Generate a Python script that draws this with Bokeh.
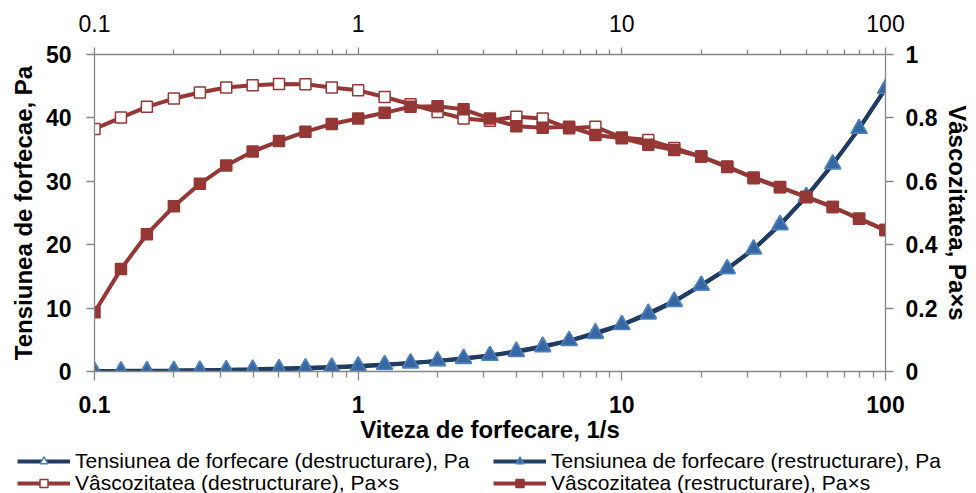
from bokeh.plotting import figure
from bokeh.layouts import column
from bokeh.models import (Range1d, LinearAxis, LogAxis, FixedTicker, Legend,
                          LegendItem, NumeralTickFormatter)
from bokeh.embed import file_html
from bokeh.resources import INLINE

# Shear rate, 1/s
rate = [0.1, 0.126, 0.158, 0.2, 0.251, 0.316, 0.398, 0.501, 0.631, 0.794,
        1.0, 1.26, 1.58, 2.0, 2.51, 3.16, 3.98, 5.01, 6.31, 7.94,
        10.0, 12.6, 15.8, 20.0, 25.1, 31.6, 39.8, 50.1, 63.1, 79.4, 100.0]

# Shear stress, Pa
stress_destr = [0.077, 0.101, 0.132, 0.172, 0.221, 0.283, 0.359, 0.454, 0.572, 0.711,
                0.887, 1.09, 1.33, 1.64, 2.00, 2.50, 3.20, 4.00, 4.84, 6.13,
                7.38, 9.20, 11.1, 13.6, 16.2, 19.3, 23.2, 27.6, 32.7, 38.3, 44.6]
stress_restr = [0.019, 0.041, 0.068, 0.104, 0.149, 0.205, 0.276, 0.364, 0.477, 0.620,
                0.798, 1.03, 1.32, 1.67, 2.08, 2.52, 3.08, 3.85, 4.87, 5.92,
                7.36, 9.01, 11.0, 13.6, 16.2, 19.3, 23.1, 27.6, 32.7, 38.3, 44.6]

# Viscosity, Pa*s
visc_destr = [0.765, 0.801, 0.835, 0.861, 0.880, 0.896, 0.903, 0.907, 0.906, 0.896,
              0.887, 0.866, 0.843, 0.819, 0.798, 0.791, 0.804, 0.798, 0.767, 0.772,
              0.738, 0.730, 0.705, 0.678, 0.645, 0.612, 0.582, 0.550, 0.519, 0.482, 0.446]
visc_restr = [0.187, 0.323, 0.433, 0.521, 0.592, 0.650, 0.694, 0.727, 0.756, 0.781,
              0.798, 0.816, 0.835, 0.837, 0.827, 0.798, 0.774, 0.769, 0.772, 0.746,
              0.736, 0.715, 0.699, 0.678, 0.647, 0.610, 0.581, 0.551, 0.519, 0.482, 0.446]

x_ticks = [0.1, 1, 10, 100]
x_minor = [0.2, 0.3, 0.4, 0.5, 0.6, 0.7, 0.8, 0.9,
           2, 3, 4, 5, 6, 7, 8, 9,
           20, 30, 40, 50, 60, 70, 80, 90]
left_ticks = [0, 10, 20, 30, 40, 50]
right_ticks = [0, 0.2, 0.4, 0.6, 0.8, 1]

labels = [
    "Tensiunea de forfecare (destructurare), Pa",
    "Vâscozitatea (destructurare), Pa×s",
    "Tensiunea de forfecare (restructurare), Pa",
    "Vâscozitatea (restructurare), Pa×s",
]

NAVY = "#1f3c63"
BLUE_EDGE = "#4f81bd"
BLUE_FILL = "#3767a3"
RED = "#953735"
AXIS_GRAY = "#868686"
FONT = "Liberation Sans"

# marker styles shared by the chart and its key
STRESS_DESTR = dict(marker="triangle", size=16, fill_color="white",
                    line_color=BLUE_EDGE, line_width=1.5)
STRESS_RESTR = dict(marker="triangle", size=16, fill_color=BLUE_FILL,
                    line_color=BLUE_EDGE, line_width=1.5)
VISC_DESTR = dict(marker="square", size=11, fill_color="white",
                  line_color=RED, line_width=1.5)
VISC_RESTR = dict(marker="square", size=11, fill_color=RED,
                  line_color=RED, line_width=1.5)

p = figure(width=976, height=445, x_axis_type="log",
           x_range=Range1d(0.1, 100), y_range=Range1d(0, 50),
           output_backend="svg", toolbar_location=None,
           min_border_left=94, min_border_right=91,
           min_border_top=54, min_border_bottom=72)
p.extra_y_ranges = {"visc": Range1d(0, 1)}
p.grid.visible = False
p.outline_line_color = None
p.background_fill_color = "white"
p.border_fill_color = "white"


def style_axis(ax, bold=True, size="23px"):
    ax.axis_line_color = AXIS_GRAY
    ax.axis_line_width = 1.3
    ax.major_tick_line_color = AXIS_GRAY
    ax.minor_tick_line_color = AXIS_GRAY
    ax.major_tick_line_width = 1.3
    ax.minor_tick_line_width = 1.3
    ax.major_tick_in = 0
    ax.minor_tick_in = 0
    ax.major_label_text_font = FONT
    ax.major_label_text_font_size = size
    ax.major_label_text_font_style = "bold" if bold else "normal"
    ax.major_label_text_color = "black"
    ax.axis_label_text_font = FONT
    ax.axis_label_text_font_size = "24px"
    ax.axis_label_text_font_style = "bold"
    ax.axis_label_text_color = "black"
    ax.formatter = NumeralTickFormatter(format="0.[0]")


# bottom log axis
xb = p.xaxis[0]
xb.ticker = FixedTicker(ticks=x_ticks, minor_ticks=x_minor)
style_axis(xb)
xb.major_tick_out = 9
xb.minor_tick_out = 6
xb.major_label_standoff = 15
xb.axis_label = "Viteza de forfecare, 1/s"
xb.axis_label_standoff = 0

# top log axis
xt = LogAxis(ticker=FixedTicker(ticks=x_ticks, minor_ticks=x_minor))
style_axis(xt, bold=False)
xt.major_tick_out = 7
xt.minor_tick_out = 5
xt.major_label_standoff = 16
p.add_layout(xt, "above")

# left axis: shear stress
yl = p.yaxis[0]
yl.ticker = FixedTicker(ticks=left_ticks, minor_ticks=[])
style_axis(yl)
yl.major_tick_out = 8
yl.major_label_standoff = 15
yl.axis_label = "Tensiunea de forfecae, Pa"
yl.axis_label_standoff = 6

# right axis: viscosity
yr = LinearAxis(y_range_name="visc",
                ticker=FixedTicker(ticks=right_ticks, minor_ticks=[]))
style_axis(yr)
yr.major_tick_out = 8
yr.major_label_standoff = 12
yr.axis_label = "Vâscozitatea, Pa×s"
yr.axis_label_standoff = 4
p.add_layout(yr, "right")

# shear stress series
p.line(rate, stress_destr, line_color=NAVY, line_width=4)
p.scatter(rate, stress_destr, **STRESS_DESTR)
p.line(rate, stress_restr, line_color=NAVY, line_width=4)
p.scatter(rate, stress_restr, **STRESS_RESTR)

# viscosity series
p.line(rate, visc_destr, y_range_name="visc", line_color=RED, line_width=4)
p.scatter(rate, visc_destr, y_range_name="visc", **VISC_DESTR)
p.line(rate, visc_restr, y_range_name="visc", line_color=RED, line_width=4)
p.scatter(rate, visc_restr, y_range_name="visc", **VISC_RESTR)

# key strip under the chart: two columns of two entries
k = figure(width=976, height=48, x_range=Range1d(0.1, 100), y_range=Range1d(0, 1),
           x_axis_type="log", x_axis_location=None, y_axis_location=None,
           output_backend="svg", toolbar_location=None, min_border=0)
k.grid.visible = False
k.outline_line_color = None
k.border_fill_color = "white"
for fig in (p, k):
    if "frame_align" in fig.properties():
        fig.frame_align = False

series = [stress_destr, visc_destr, stress_restr, visc_restr]
styles = [(NAVY, STRESS_DESTR), (RED, VISC_DESTR),
          (NAVY, STRESS_RESTR), (RED, VISC_RESTR)]
spots = [(17, 20), (17, -2), (493, 20), (493, -2)]
for label, ys, (lc, mk), loc in zip(labels, series, styles, spots):
    ln = k.line(rate, ys, line_color=lc, line_width=4, visible=False)
    sc = k.scatter(rate, ys, visible=False, **mk)
    leg = Legend(items=[LegendItem(label=label, renderers=[ln, sc])],
                 location=loc, padding=0, margin=0, spacing=0,
                 border_line_color=None, background_fill_alpha=0,
                 glyph_width=53, glyph_height=20, label_height=20,
                 label_standoff=5, label_text_font=FONT,
                 label_text_font_size="21px", label_text_color="black")
    k.add_layout(leg, "center")

layout = column(p, k, spacing=0)
open("out.html", "w").write(file_html(layout, INLINE))
